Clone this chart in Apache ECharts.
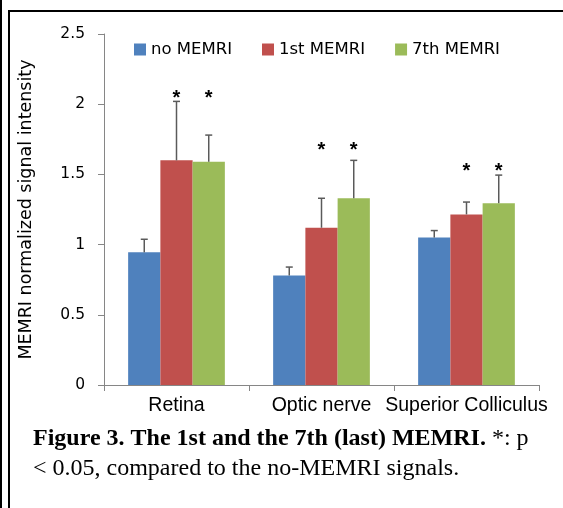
<!DOCTYPE html>
<html><head><meta charset="utf-8">
<script src="https://cdn.jsdelivr.net/npm/echarts@6/dist/echarts.min.js"></script>
<style>html,body{margin:0;padding:0;background:#fff}#c{width:563px;height:508px}</style>
</head><body><div id="c"></div>
<script>
const categories = ['Retina', 'Optic nerve', 'Superior Colliculus'];
const seriesNames = ['no MEMRI', '1st MEMRI', '7th MEMRI'];
const noMemri = [0.945, 0.78, 1.05];
const firstMemri = [1.60, 1.12, 1.215];
const seventhMemri = [1.59, 1.33, 1.295];
const noMemriErr = [0.093, 0.06, 0.05];
const firstMemriErr = [0.42, 0.21, 0.088];
const seventhMemriErr = [0.19, 0.27, 0.20];
const starLevel = [2.05, 1.68, 1.53];
const starredSeries = [1, 2];
const yTicks = [0, 0.5, 1, 1.5, 2, 2.5];
const captionBold = 'Figure 3. The 1st and the 7th (last) MEMRI.';
const captionRest1 = ' *: p';
const captionLine2 = '< 0.05, compared to the no-MEMRI signals.';

const colors = ['#4F81BD', '#C0504D', '#9BBB59'];
const GAP = 0.333;
const values = [noMemri, firstMemri, seventhMemri];
const errs = [noMemriErr, firstMemriErr, seventhMemriErr];

function barX(api, si, ci) {
  const band = api.size([1, 0])[0];
  const bw = band * (1 - GAP) / 3;
  return api.coord([ci, 0])[0] + (si - 1) * bw;
}
function errRender(si) {
  return function (params, api) {
    const ci = api.value(0), v = api.value(1), e = api.value(2);
    const x = barX(api, si, ci);
    const y0 = api.coord([ci, v])[1];
    const y1 = api.coord([ci, v + e])[1];
    const st = { stroke: '#5a5a5a', lineWidth: 1.5 };
    return { type: 'group', children: [
      { type: 'line', shape: { x1: x, y1: y0, x2: x, y2: y1 }, style: st },
      { type: 'line', shape: { x1: x - 3.5, y1: y1, x2: x + 3.5, y2: y1 }, style: st }
    ]};
  };
}
function starRender(si) {
  return function (params, api) {
    const ci = api.value(0), lv = api.value(1);
    const x = barX(api, si, ci);
    const y = api.coord([ci, lv])[1];
    return { type: 'text', x: x, y: y + 1.5, style: {
      text: '*', fill: '#000', font: 'bold 20px "Liberation Sans"', align: 'center', verticalAlign: 'middle'
    }};
  };
}

const series = [];
for (let si = 0; si < 3; si++) {
  series.push({
    name: seriesNames[si], type: 'bar', data: values[si],
    barGap: '0%', barCategoryGap: (GAP * 100) + '%',
    itemStyle: { color: colors[si] }, silent: true
  });
}
for (let si = 0; si < 3; si++) {
  series.push({
    type: 'custom', renderItem: errRender(si), silent: true, z: 5,
    data: categories.map((c, ci) => [ci, values[si][ci], errs[si][ci]])
  });
}
starredSeries.forEach(si => {
  series.push({
    type: 'custom', renderItem: starRender(si), silent: true, z: 6,
    data: categories.map((c, ci) => [ci, starLevel[ci]])
  });
});

const chart = echarts.init(document.getElementById('c'), null, { renderer: 'canvas' });
chart.setOption({
  animation: false,
  backgroundColor: '#fff',
  grid: { left: 104, right: 24, top: 34, bottom: 123, containLabel: false },
  legend: {
    data: seriesNames, left: 134, top: 41, padding: 0, icon: 'rect', itemWidth: 12, itemHeight: 12,
    itemGap: 30, textStyle: { fontFamily: 'DejaVu Sans', fontSize: 16.5, color: '#000' },
    selectedMode: false
  },
  xAxis: {
    type: 'category', data: categories,
    axisLine: { lineStyle: { color: '#868686', width: 1 } },
    axisTick: { show: true, length: 6, lineStyle: { color: '#868686' } },
    axisLabel: { fontFamily: 'Liberation Sans', fontSize: 19.5, color: '#000', margin: 11, interval: 0 }
  },
  yAxis: {
    type: 'value', min: yTicks[0], max: yTicks[yTicks.length - 1], interval: yTicks[1] - yTicks[0],
    name: 'MEMRI normalized signal intensity', nameLocation: 'middle', nameGap: 69,
    nameTextStyle: { fontFamily: 'DejaVu Sans', fontSize: 17.5, color: '#000' },
    axisLine: { show: true, lineStyle: { color: '#868686', width: 1 } },
    axisTick: { show: true, length: 6, lineStyle: { color: '#868686' } },
    splitLine: { show: false },
    axisLabel: { fontFamily: 'DejaVu Sans', fontSize: 15.5, color: '#000', margin: 19,
      formatter: v => String(v) }
  },
  series: series,
  graphic: [
    { type: 'rect', shape: { x: 0, y: 0, width: 2, height: 508 }, style: { fill: '#000' } },
    { type: 'rect', shape: { x: 8, y: 10, width: 2, height: 498 }, style: { fill: '#000' } },
    { type: 'rect', shape: { x: 8, y: 10, width: 555, height: 2 }, style: { fill: '#000' } },
    { type: 'text', left: 33, top: 427, style: {
      text: '{b|' + captionBold + '}{n|' + captionRest1 + '}',
      rich: {
        b: { fontFamily: 'Liberation Serif', fontWeight: 'bold', fontSize: 24, fill: '#000' },
        n: { fontFamily: 'Liberation Serif', fontSize: 24, fill: '#000' }
      } } },
    { type: 'text', left: 33, top: 457, style: {
      text: captionLine2, fill: '#000', font: '24px "Liberation Serif"' } }
  ]
});
</script></body></html>
